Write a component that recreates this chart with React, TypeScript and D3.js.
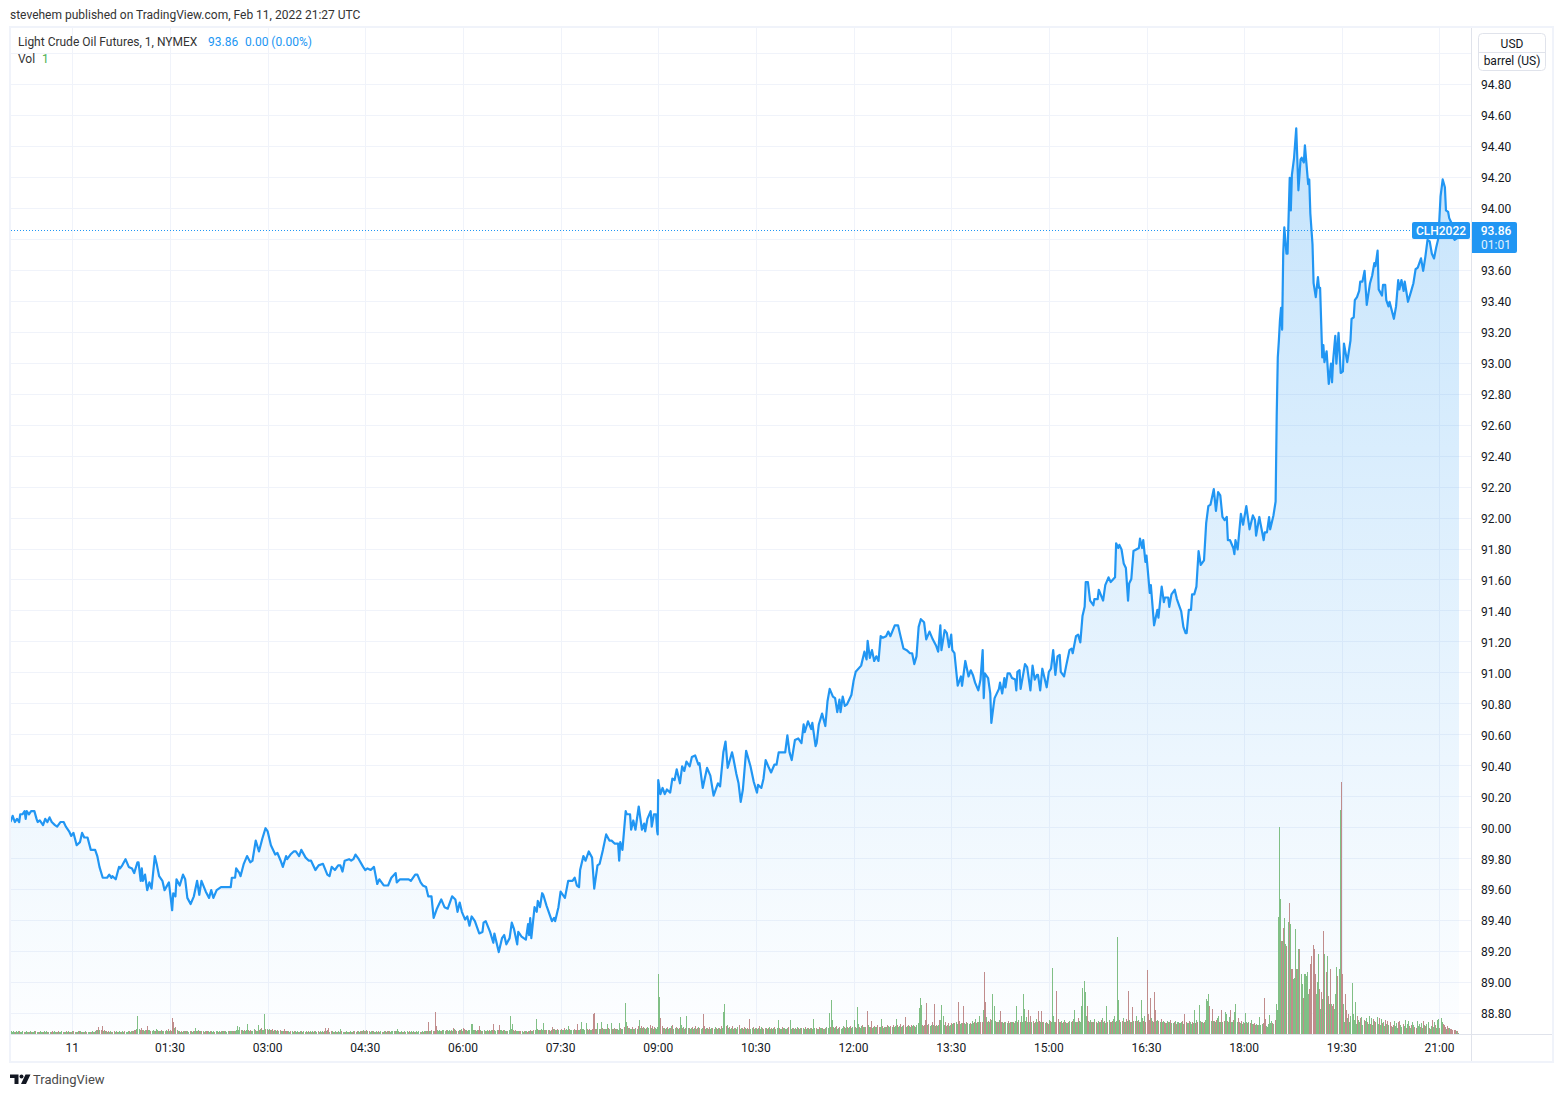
/**
 * Light crude oil futures, 1 minute area chart with volume, D3 + React
 */
import React, { useEffect, useRef } from "react";
import * as d3 from "d3";

// [minutes after 00:00 on Feb 11, price]
const pricePoints: [number, number][] = [
  [-57, 90.04], [-55, 90.08], [-53, 90.04], [-51, 90.06], [-49, 90.04], [-48, 90.09], [-46, 90.09], [-44, 90.11], [-43, 90.06], [-42, 90.11],
  [-40, 90.09], [-38, 90.11], [-35, 90.11], [-33, 90.06], [-32, 90.04], [-30, 90.05], [-27, 90.02], [-25, 90.06], [-23, 90.04], [-21, 90.07],
  [-19, 90.04], [-16, 90.02], [-14, 90.01], [-11, 90.04], [-8, 90.04], [-6, 90.01], [-3, 89.98], [-1, 89.95], [1, 89.97], [4, 89.89],
  [7, 89.91], [9, 89.97], [11, 89.94], [14, 89.94], [17, 89.86], [21, 89.86], [23, 89.82], [25, 89.75], [28, 89.68], [32, 89.68],
  [34, 89.7], [36, 89.68], [37, 89.69], [40, 89.67], [43, 89.75], [44, 89.74], [46, 89.76], [49, 89.8], [52, 89.75], [55, 89.74],
  [57, 89.71], [60, 89.78], [61, 89.78], [63, 89.66], [64, 89.74], [65, 89.66], [67, 89.7], [69, 89.6], [71, 89.65], [73, 89.61],
  [76, 89.82], [78, 89.76], [80, 89.69], [83, 89.66], [85, 89.6], [89, 89.65], [92, 89.47], [93, 89.58], [95, 89.56], [96, 89.67],
  [99, 89.63], [102, 89.7], [104, 89.67], [106, 89.55], [109, 89.51], [112, 89.56], [115, 89.66], [117, 89.57], [119, 89.66], [123, 89.59],
  [126, 89.55], [128, 89.6], [130, 89.55], [133, 89.6], [137, 89.62], [140, 89.62], [146, 89.62], [147, 89.68], [150, 89.68], [151, 89.74],
  [154, 89.71], [155, 89.69], [158, 89.77], [161, 89.82], [164, 89.78], [166, 89.79], [169, 89.92], [172, 89.85], [175, 89.93], [178, 90.0],
  [180, 89.98], [183, 89.89], [187, 89.83], [189, 89.84], [192, 89.79], [194, 89.75], [197, 89.82], [198, 89.8], [201, 89.83], [204, 89.85],
  [206, 89.85], [209, 89.82], [211, 89.86], [215, 89.81], [218, 89.79], [220, 89.79], [224, 89.73], [227, 89.76], [231, 89.77], [235, 89.7],
  [237, 89.69], [239, 89.75], [242, 89.73], [245, 89.76], [247, 89.76], [249, 89.72], [251, 89.79], [255, 89.8], [257, 89.79], [259, 89.8],
  [261, 89.83], [264, 89.8], [268, 89.75], [270, 89.73], [272, 89.74], [275, 89.73], [278, 89.75], [281, 89.64], [283, 89.67], [287, 89.63],
  [291, 89.63], [294, 89.68], [298, 89.71], [299, 89.65], [302, 89.67], [306, 89.67], [310, 89.67], [312, 89.66], [316, 89.7], [318, 89.7],
  [321, 89.65], [323, 89.63], [326, 89.62], [328, 89.56], [331, 89.56], [333, 89.42], [336, 89.48], [340, 89.54], [343, 89.49], [346, 89.48],
  [350, 89.56], [353, 89.54], [355, 89.46], [357, 89.52], [359, 89.46], [362, 89.41], [364, 89.43], [366, 89.37], [368, 89.43], [371, 89.4],
  [375, 89.32], [378, 89.33], [379, 89.39], [381, 89.4], [385, 89.33], [388, 89.26], [389, 89.32], [393, 89.2], [396, 89.29], [398, 89.31],
  [400, 89.25], [403, 89.29], [405, 89.39], [407, 89.35], [410, 89.25], [411, 89.33], [414, 89.3], [418, 89.28], [420, 89.38], [421, 89.31],
  [422, 89.42], [423, 89.29], [426, 89.49], [428, 89.46], [429, 89.53], [431, 89.49], [433, 89.58], [434, 89.57], [437, 89.5], [442, 89.4],
  [444, 89.42], [445, 89.4], [448, 89.49], [450, 89.59], [454, 89.55], [457, 89.66], [461, 89.66], [463, 89.68], [465, 89.63], [467, 89.62],
  [468, 89.73], [471, 89.82], [473, 89.79], [476, 89.85], [479, 89.81], [481, 89.61], [484, 89.76], [486, 89.77], [489, 89.86], [492, 89.96],
  [495, 89.92], [497, 89.92], [500, 89.9], [503, 89.9], [504, 89.79], [505, 89.91], [507, 89.86], [510, 90.11], [511, 90.09], [514, 90.09],
  [515, 89.99], [517, 90.05], [519, 89.99], [522, 90.14], [525, 89.99], [527, 90.03], [528, 89.98], [530, 90.06], [533, 90.11], [534, 90.01],
  [536, 90.09], [538, 90.09], [539, 89.98], [539.5, 89.96], [540, 90.31], [542, 90.22], [544, 90.26], [546, 90.22], [548, 90.25], [551, 90.23],
  [553, 90.32], [555, 90.31], [557, 90.38], [560, 90.29], [562, 90.4], [564, 90.37], [566, 90.43], [569, 90.4], [571, 90.46], [574, 90.47],
  [577, 90.41], [578, 90.42], [581, 90.26], [585, 90.39], [588, 90.34], [591, 90.21], [595, 90.29], [597, 90.27], [600, 90.49], [602, 90.56],
  [604, 90.39], [606, 90.44], [608, 90.49], [609, 90.46], [612, 90.35], [614, 90.29], [616, 90.17], [618, 90.25], [621, 90.5], [625, 90.4],
  [628, 90.3], [631, 90.23], [632, 90.28], [635, 90.26], [637, 90.32], [639, 90.44], [642, 90.39], [644, 90.36], [647, 90.41], [649, 90.41],
  [651, 90.49], [657, 90.49], [659, 90.6], [661, 90.49], [663, 90.44], [666, 90.57], [669, 90.58], [672, 90.55], [674, 90.67], [675, 90.62],
  [678, 90.69], [681, 90.64], [682, 90.68], [685, 90.53], [686, 90.55], [688, 90.67], [691, 90.74], [694, 90.66], [696, 90.82], [698, 90.9],
  [701, 90.85], [703, 90.84], [705, 90.75], [707, 90.83], [708, 90.75], [710, 90.85], [712, 90.79], [714, 90.8], [718, 90.86], [720, 90.95],
  [722, 91.01], [727, 91.05], [730, 91.14], [732, 91.09], [733, 91.21], [735, 91.1], [737, 91.15], [739, 91.08], [741, 91.11], [743, 91.08],
  [745, 91.24], [747, 91.23], [750, 91.24], [752, 91.27], [754, 91.24], [758, 91.31], [761, 91.31], [763, 91.25], [766, 91.16], [769, 91.15],
  [772, 91.13], [774, 91.13], [776, 91.06], [778, 91.11], [780, 91.3], [782, 91.35], [785, 91.33], [787, 91.22], [790, 91.27], [793, 91.22],
  [796, 91.18], [798, 91.14], [800, 91.31], [801, 91.15], [804, 91.28], [806, 91.26], [808, 91.17], [810, 91.25], [811, 91.15], [813, 91.13],
  [816, 90.92], [819, 90.98], [820, 90.92], [823, 91.08], [826, 90.98], [828, 91.02], [830, 90.99], [832, 90.94], [835, 90.89], [837, 90.96],
  [839, 91.15], [840, 90.84], [841, 91.0], [844, 90.97], [846, 90.87], [847, 90.68], [849, 90.79], [850, 90.84], [854, 90.9], [855, 90.94],
  [857, 90.87], [859, 90.97], [860, 90.91], [862, 91.0], [864, 91.0], [866, 90.97], [869, 90.96], [870, 90.89], [871, 91.01], [873, 91.02],
  [874, 90.9], [878, 91.06], [880, 91.04], [883, 90.89], [885, 91.05], [887, 90.96], [889, 90.99], [890, 90.99], [892, 90.89], [894, 91.03],
  [898, 90.91], [900, 91.01], [902, 91.03], [904, 91.15], [906, 90.99], [908, 91.11], [910, 91.12], [911, 91.01], [914, 90.98], [916, 91.05],
  [919, 91.15], [921, 91.16], [922, 91.13], [925, 91.24], [927, 91.25], [929, 91.2], [931, 91.37], [933, 91.43], [934, 91.59], [936, 91.59],
  [938, 91.47], [941, 91.44], [942, 91.48], [945, 91.48], [946, 91.54], [950, 91.47], [952, 91.57], [955, 91.62], [957, 91.59], [961, 91.62],
  [962, 91.84], [964, 91.81], [965, 91.83], [967, 91.8], [969, 91.71], [971, 91.68], [973, 91.47], [974, 91.58], [976, 91.61], [978, 91.79],
  [983, 91.81], [984, 91.87], [986, 91.81], [987, 91.86], [989, 91.72], [990, 91.76], [993, 91.52], [994, 91.57], [997, 91.31], [1000, 91.41],
  [1001, 91.36], [1004, 91.56], [1006, 91.46], [1007, 91.49], [1010, 91.49], [1011, 91.43], [1013, 91.51], [1016, 91.54], [1018, 91.48], [1021, 91.42],
  [1022, 91.4], [1024, 91.3], [1026, 91.26], [1027, 91.26], [1029, 91.41], [1031, 91.41], [1032, 91.51], [1034, 91.51], [1036, 91.56], [1038, 91.79],
  [1040, 91.7], [1043, 91.73], [1045, 91.97], [1047, 92.08], [1049, 92.09], [1052, 92.19], [1054, 92.05], [1056, 92.17], [1058, 92.15], [1060, 92.01],
  [1062, 91.99], [1064, 92.01], [1065, 91.86], [1067, 91.86], [1070, 91.81], [1071, 91.77], [1072, 91.86], [1074, 91.8], [1077, 92.03], [1079, 91.96],
  [1082, 92.08], [1085, 91.93], [1088, 92.02], [1090, 91.99], [1091, 91.89], [1094, 92.01], [1095, 91.97], [1098, 91.86], [1099, 91.91], [1101, 91.91],
  [1103, 92.01], [1104, 91.93], [1107, 92.02], [1109, 92.11], [1110, 92.66], [1111, 93.04], [1112, 93.15], [1113, 93.28], [1114, 93.36], [1115, 93.22],
  [1116, 93.71], [1117, 93.88], [1119, 93.71], [1120, 93.71], [1122, 94.2], [1123, 93.99], [1124, 94.22], [1126, 94.33], [1128, 94.52], [1130, 94.12],
  [1132, 94.32], [1133, 94.33], [1135, 94.3], [1136, 94.41], [1139, 94.16], [1140, 94.19], [1141, 93.97], [1143, 93.77], [1144, 93.52], [1146, 93.43],
  [1148, 93.56], [1149, 93.49], [1150, 93.49], [1152, 93.04], [1153, 93.12], [1154, 93.01], [1156, 93.08], [1158, 92.87], [1160, 93.0], [1161, 92.88],
  [1162, 93.02], [1164, 93.18], [1165, 93.0], [1167, 93.2], [1169, 92.94], [1171, 92.95], [1172, 93.13], [1175, 93.01], [1178, 93.15], [1179, 93.29],
  [1181, 93.3], [1182, 93.41], [1184, 93.43], [1186, 93.47], [1187, 93.53], [1189, 93.53], [1191, 93.6], [1193, 93.38], [1196, 93.52], [1198, 93.57],
  [1200, 93.65], [1201, 93.63], [1203, 93.73], [1204, 93.48], [1207, 93.44], [1208, 93.51], [1210, 93.51], [1211, 93.41], [1213, 93.37], [1214, 93.4],
  [1218, 93.29], [1220, 93.37], [1222, 93.54], [1223, 93.48], [1225, 93.54], [1227, 93.47], [1228, 93.53], [1231, 93.4], [1234, 93.47], [1236, 93.52],
  [1238, 93.61], [1240, 93.62], [1243, 93.68], [1245, 93.6], [1247, 93.69], [1249, 93.8], [1251, 93.79], [1253, 93.71], [1255, 93.68], [1257, 93.75],
  [1259, 93.81], [1261, 94.08], [1263, 94.19], [1265, 94.14], [1266, 93.99], [1268, 93.98], [1269, 93.94], [1271, 93.91], [1272, 93.82], [1274, 93.8],
  [1276, 93.81], [1278, 93.82],
];

// one value per minute, sign gives the bar colour (negative = down)
const volBefore = [
  3, 2, 3, 2, -2, 3, 2, 3, -3, 2, 2, 3, -2, 2, 3, 2, -2, 2, 3, -2, 2, 2, 3, -3, 2, 2, -2, 3, 2, 2,
  -2, 3, 2, 3, -2, 2, 2, -2, -3, 2, 3, 2, -2, 2, -3, 2, 2, 3, -2, 2, 2, -3, 2, 3, -2, 2, -2,
];
const vol0000 = [
  3, -3, 2, -2, 2, 3, -3, 3, -2, 2, 2, -2, 3, -2, 2, 2, -2, 2, 3, -2, 2, 3, -4, 4, -7, 4, -4, -8, 3, -4,
  3, -3, 2, -3, 2, 3, -2, 2, -3, 2, 3, -2, 2, 3, 2, -2, 3, 2, -3, 2, 2, 3, -3, 2, 3, -3, 3, -4, -4, 5,
  18, 5, -4, -6, 4, -4, 3, 4, -4, -8, 4, 4, -3, 3, 4, 3, -3, 5, 4, -3, 3, 3, -4, 3, 3, -3, 4, 3, -5, 3,
];
const vol0130 = [
  -4, 3, -16, -12, 6, -7, 4, -3, 3, 2, -3, 2, 3, -3, 3, -3, 3, 2, -3, 3, 2, -3, 3, 6, -3, 3, 4, -3, 3, -3,
  3, -2, 3, -3, -3, 3, 2, -3, 3, 2, 3, -2, 3, 3, -2, 3, 2, -3, 3, 3, -3, 3, 2, 3, -3, 3, 3, -3, 3, -3,
  3, 4, 8, 4, 7, -4, 4, 3, -4, 3, 4, 10, -4, 3, -4, 3, 3, 5, -4, 3, 3, 9, -4, 5, -6, 4, 4, 20, -5, 5,
];
const vol0300 = [
  -4, 5, -4, 4, -5, 3, -4, 4, 3, -4, 3, -4, 3, 3, -3, -5, 3, -3, -3, 3, 2, -3, 3, 2, -3, 3, 2, 3, -2, 2,
  3, -3, 2, 3, -2, 3, 2, -3, 2, 3, -2, 3, 2, -3, 3, 2, -3, 2, 3, -2, 3, 2, -3, -6, 3, -4, -6, 2, -3, 3,
  2, -2, 3, 2, -2, 3, 2, 5, -3, 2, 2, -2, 3, 2, 2, -2, 3, 2, -2, 3, -3, 2, -3, 3, 2, -3, 3, -3, 4, -3,
];
const vol0430 = [
  3, -4, 3, -3, 2, 3, -3, 3, 2, -2, 3, 2, -3, 2, 3, -2, 2, 3, -3, 2, -3, 3, -3, 2, 3, 3, 3, -3, 3, 5,
  3, -2, 2, 3, -2, 2, 3, -2, 3, 2, -3, 2, 3, -2, 3, 2, -2, 3, 2, 3, -2, 2, 3, -2, 3, 3, -3, 3, -12, 3,
  3, -4, 3, -3, -22, -8, 4, 3, 4, 3, -3, 4, 4, 3, -4, 4, 3, 4, -3, 4, 3, -6, 5, -4, 3, -3, 4, -4, 5, 3,
];
const vol0600 = [
  -6, -5, 4, -4, 3, 4, 4, 10, 10, 4, 4, -4, 3, 4, -4, -8, 4, -3, 3, 4, -3, 3, 4, 3, -4, 3, 4, -4, -10, 4,
  3, 4, -4, -9, 4, 4, 3, -4, 4, 3, -3, 3, 4, 18, 5, 10, -4, 3, -4, 3, 3, 3, -3, -3, 3, 2, -3, 3, 3, -2,
  -3, 3, -4, 3, 3, -4, 4, 15, 5, -4, 4, -4, 5, 4, 11, -4, 4, -4, 4, -4, 3, -4, -7, 5, -5, 4, 4, -5, 4, 4,
];
const vol0730 = [
  -5, 4, 4, -6, 4, 5, 4, 8, -5, 4, 4, 4, -5, 4, -4, -10, 4, 4, -5, 12, 5, 5, 4, 11, -5, 4, -5, 4, 4, -5,
  -20, -21, 5, -5, 11, 5, -5, 12, -6, 5, 5, -5, 5, 10, -6, 5, 11, -5, 5, -6, 5, -5, 5, 4, 11, -6, 5, 5, -7, 31,
  12, -8, 6, -6, 5, 5, -7, 5, 5, -6, 5, -8, 14, 6, -8, 6, -7, 6, 5, -6, 7, 6, -9, 6, -8, 5, -7, 6, 5, 7,
];
const vol0900 = [
  60, 37, -16, -8, 6, -6, 5, 6, -7, 5, 6, -6, 8, -9, 5, 6, -7, 6, 5, -6, 17, 9, -6, 7, 5, -6, 18, 6, -6, 5,
  6, -7, 5, 6, -8, 5, -6, 7, -6, 5, 6, -20, -8, 5, 6, -6, 5, -7, 5, 6, -6, 5, 7, -6, 5, 6, -6, 5, -8, 6,
  22, 30, -8, 9, 6, -7, 5, 6, -8, 5, 6, -6, 5, 7, -9, 5, 6, -6, 5, -7, 6, 5, -6, 5, -15, 5, 6, -7, 5, 6,
];
const vol1030 = [
  -6, 5, 6, -8, 5, 7, -6, 5, -6, 6, 5, -6, 7, 5, -6, 5, 6, -7, 5, 6, 14, -6, 5, 5, -7, 6, 6, -5, 5, 6,
  -7, 14, 5, -6, 6, 5, -6, 5, 7, -6, 5, 6, -6, 6, 5, -7, 5, 6, -6, 5, 6, -6, 5, 15, 6, -6, 5, 5, -7, 6,
  6, -6, 5, 5, -6, 7, 6, 21, -7, 34, 14, -7, 6, 7, -8, 5, 6, -7, 5, 6, 8, -7, 6, 14, -7, 6, 7, -8, 6, 7,
];
const vol1200 = [
  14, -7, 6, 27, 10, -7, 6, 8, -9, 7, 7, -7, -23, 9, 7, -7, -13, 6, 7, -8, 7, 7, -9, -7, 7, 15, -8, 6, 7, -7,
  7, -9, 8, 7, -8, 7, -9, 7, 8, 15, -9, 7, 8, -10, 7, 8, -9, -17, 7, 8, -9, 8, 7, -9, 8, 9, -8, 7, 9, 11,
  26, 36, 29, -9, 8, -9, -14, -31, 9, -10, 8, 9, -12, 9, -30, 8, -9, 8, 9, -14, 14, 29, 18, 9, -12, -8, 9, -11, 8, 9,
];
const vol1330 = [
  -11, 10, 11, -11, 12, 10, -32, -13, 10, 11, -11, -28, 11, 10, -12, 11, 10, -11, 10, 13, 11, -12, 15, 11, -12, 12, 18, -12, -12, 24,
  -62, -32, 17, 12, -13, 12, -15, 14, 40, 28, 13, -12, 12, -12, 14, -23, -12, 12, 11, -12, 12, 11, -13, 11, -12, 12, 12, -12, 11, 13,
  28, -12, 14, -12, 18, 12, 40, 25, -13, 17, 12, -24, 12, -18, 12, -13, 11, -12, 15, 12, -23, -13, 12, -23, 12, -12, 11, -12, 11, -10,
];
const vol1500 = [
  14, -13, 12, 66, 18, 12, -12, -43, -15, 12, -12, 13, 11, -12, 14, -12, 11, 11, -12, 13, 12, -13, 15, 24, -12, 12, 12, -16, 13, 12,
  28, 46, 53, 42, 18, -28, -13, 12, 14, -12, 12, -12, 15, -12, 11, 13, -12, 12, -14, 16, 12, -13, 11, 28, -12, 14, -12, 12, -13, 15,
  18, -12, 13, 97, 34, -14, 12, -13, 16, -12, 12, -15, 13, -43, 14, -12, 12, -27, 13, -13, 18, -13, 14, -12, 12, 34, 16, -13, 18, -12,
];
const vol1630 = [
  -64, -20, -14, -36, 16, -13, 12, -42, -24, 13, 14, -13, 12, -15, 12, 13, -12, -11, 11, 13, -12, 12, -14, 11, 11, -12, 13, -10, 12, 12,
  -11, 11, 12, -13, 10, -20, -12, 11, 11, -13, 12, 10, -12, 11, 24, -11, 14, -12, 29, 13, -12, 12, 11, -12, 14, 35, 33, 40, -28, 13,
  -25, 13, -13, 12, -14, 16, 18, -12, 12, -24, 12, -13, 22, 20, -13, 12, 17, -24, 12, 12, -14, 22, 30, 12, -16, -12, 11, -13, 10, 12,
];
const vol1800 = [
  -11, 21, 12, -11, 12, -11, 14, 10, -10, -11, 9, 10, -9, 9, 17, 9, 10, -11, -36, -15, 8, 7, 10, 19, 11, 13, -11, 10, -14, 30,
  24, 117, 207, 135, -93, 93, -106, 116, 90, -88, 112, -131, 110, -65, -65, 55, 56, 105, -65, 65, 85, -85, 60, 50, -36, 60, 60, 58, 62, 40,
  -45, -70, -78, -89, -85, -60, 40, 52, 80, -45, 25, -42, 35, -103, 80, -62, 78, -38, 30, -65, 30, -28, -30, 25, 40, 67, -58, 65, 224, -252,
];
const vol1930 = [
  -60, 30, 12, -40, -24, 16, -20, 12, 18, 51, 20, 14, 32, 10, -18, 14, 12, -16, 17, 9, -14, 13, 16, -12, 10, 18, -10, 16, 9, -15,
  13, -12, 17, 10, -16, 9, 15, -11, 12, 8, -14, 10, -13, 9, -12, -8, 7, -9, 13, 8, 11, 6, -12, -13, 9, 7, -10, 8, 14, -6,
  10, 13, -8, 6, -9, 12, 9, -7, -6, 13, 8, 10, -7, 11, 6, -13, 9, -8, 10, 12, -6, 5, 8, -14, 7, 12, -9, 6, 14, 15,
];
const vol2100 = [-6, 16, 12, -10, -9, -7, 5, -8, -6, 6, -5, -5, -4, -4, -4, 3, -3, 1];

const volumeRows = [volBefore, vol0000, vol0130, vol0300, vol0430, vol0600, vol0730, vol0900, vol1030, vol1200, vol1330, vol1500, vol1630, vol1800, vol1930, vol2100];
const volumeRowStarts = [-57, 0, 90, 180, 270, 360, 450, 540, 630, 720, 810, 900, 990, 1080, 1170, 1260];

const priceTicks = [88.8, 89, 89.2, 89.4, 89.6, 89.8, 90, 90.2, 90.4, 90.6, 90.8, 91, 91.2, 91.4, 91.6, 91.8, 92, 92.2, 92.4, 92.6, 92.8, 93, 93.2, 93.4, 93.6, 93.8, 94, 94.2, 94.4, 94.6, 94.8];
const timeTicks = [0, 90, 180, 270, 360, 450, 540, 630, 720, 810, 900, 990, 1080, 1170, 1260];
const timeLabels = ["11", "01:30", "03:00", "04:30", "06:00", "07:30", "09:00", "10:30", "12:00", "13:30", "15:00", "16:30", "18:00", "19:30", "21:00"];
const lastPrice = 93.86;
// the last price tag sits on this tick, its label is not shown
const hiddenPriceTick = 93.8;

const BLUE = "#2196f3";
const GRID = "#f0f3fa";
const BORDER = "#e0e3eb";
const FONT = "Roboto, 'Noto Sans', sans-serif";

export default function App() {
  const svgRef = useRef<SVGSVGElement>(null);

  useEffect(() => {
    if (!svgRef.current) return;
    const svg = d3.select(svgRef.current);
    svg.selectAll("*").remove();

    const xScale = d3.scaleLinear().domain([-57, 1277]).range([10.5, 1457.9]);
    const yScale = d3.scaleLinear().domain([88.8, 94.8]).range([1014, 85]);
    const volScale = d3.scaleLinear().domain([0, 252]).range([1034, 782]);

    // Gradient
    const gradient = svg
      .append("defs")
      .append("linearGradient")
      .attr("id", "areaFill")
      .attr("gradientUnits", "userSpaceOnUse")
      .attr("x1", 0)
      .attr("x2", 0)
      .attr("y1", 127)
      .attr("y2", 1034);
    gradient.append("stop").attr("offset", "0%").attr("stop-color", BLUE).attr("stop-opacity", 0.26);
    gradient.append("stop").attr("offset", "100%").attr("stop-color", BLUE).attr("stop-opacity", 0.01);

    // Grid lines
    const grid = svg.append("g").attr("stroke", GRID).attr("stroke-width", 1);
    [...priceTicks, 95].forEach((p) => {
      const y = Math.round(yScale(p)) - 0.5;
      grid.append("line").attr("x1", 10).attr("x2", 1471).attr("y1", y).attr("y2", y);
    });
    timeTicks.forEach((t) => {
      const x = Math.round(xScale(t)) + 0.5;
      grid.append("line").attr("x1", x).attr("x2", x).attr("y1", 28).attr("y2", 1034);
    });

    // Area
    const area = d3
      .area<[number, number]>()
      .x((d) => xScale(d[0]))
      .y0(1034)
      .y1((d) => yScale(d[1]));
    svg.append("path").datum(pricePoints).attr("d", area).attr("fill", "url(#areaFill)");

    // Volume bars
    const bars = volumeRows.flatMap((row, r) =>
      row.map((v, i) => ({ minute: volumeRowStarts[r] + i, volume: Math.abs(v), up: v >= 0 }))
    );
    svg
      .append("g")
      .selectAll("rect")
      .data(bars)
      .enter()
      .append("rect")
      .attr("x", (d) => Math.round(xScale(d.minute)))
      .attr("y", (d) => volScale(d.volume))
      .attr("width", 1)
      .attr("height", (d) => volScale(0) - volScale(d.volume))
      .attr("fill", (d) => (d.up ? "#80bf85" : "#c08c8c"));

    const line = d3
      .line<[number, number]>()
      .x((d) => xScale(d[0]))
      .y((d) => yScale(d[1]));

    // Last price line
    const lastY = Math.round(yScale(lastPrice)) - 0.5;
    svg
      .append("line")
      .attr("x1", 11)
      .attr("x2", 1412)
      .attr("y1", lastY)
      .attr("y2", lastY)
      .attr("stroke", BLUE)
      .attr("stroke-width", 1)
      .attr("stroke-dasharray", "1,2");

    svg
      .append("path")
      .datum(pricePoints)
      .attr("d", line)
      .attr("fill", "none")
      .attr("stroke", BLUE)
      .attr("stroke-width", 2.2)
      .attr("stroke-linejoin", "round");

    // Frame
    svg
      .append("rect")
      .attr("x", 10)
      .attr("y", 27)
      .attr("width", 1543)
      .attr("height", 1035)
      .attr("fill", "none")
      .attr("stroke", GRID)
      .attr("stroke-width", 2);
    svg.append("line").attr("x1", 11).attr("x2", 1552).attr("y1", 1034.5).attr("y2", 1034.5).attr("stroke", BORDER);
    svg.append("line").attr("x1", 1471.5).attr("x2", 1471.5).attr("y1", 28).attr("y2", 1061).attr("stroke", BORDER);

    // Axes
    const yAxis = d3
      .axisRight(yScale)
      .tickValues(priceTicks.filter((p) => p !== hiddenPriceTick))
      .tickFormat((d) => d3.format(".2f")(d as number))
      .tickSize(0)
      .tickPadding(9);
    const yAxisG = svg.append("g").attr("transform", "translate(1472,0)").call(yAxis);
    yAxisG.select(".domain").remove();
    yAxisG.selectAll("text").attr("font-family", FONT).attr("font-size", 12).attr("fill", "#131722");

    const xAxis = d3
      .axisBottom(xScale)
      .tickValues(timeTicks)
      .tickFormat((_, i) => timeLabels[i])
      .tickSize(0)
      .tickPadding(9);
    const xAxisG = svg.append("g").attr("transform", "translate(-0.5,1034)").call(xAxis);
    xAxisG.select(".domain").remove();
    xAxisG.selectAll("text").attr("font-family", FONT).attr("font-size", 12).attr("fill", "#131722");

    const label = (x: number, y: number, text: string, fill: string, size = 12, anchor = "start", weight = "normal") =>
      svg
        .append("text")
        .attr("x", x)
        .attr("y", y)
        .attr("font-family", FONT)
        .attr("font-size", size)
        .attr("font-weight", weight)
        .attr("text-anchor", anchor)
        .attr("fill", fill)
        .text(text);

    // Header and legend
    label(10, 19, "stevehem published on TradingView.com, Feb 11, 2022 21:27 UTC", "#333333");
    label(18, 46, "Light Crude Oil Futures, 1, NYMEX", "#333333");
    label(208, 46, "93.86", BLUE);
    label(245, 46, "0.00 (0.00%)", BLUE);
    label(18, 63, "Vol", "#333333");
    label(42, 63, "1", "#4caf50");

    // Unit box
    svg
      .append("rect")
      .attr("x", 1478.5)
      .attr("y", 33.5)
      .attr("width", 67)
      .attr("height", 37)
      .attr("rx", 4)
      .attr("fill", "#fff")
      .attr("stroke", BORDER);
    svg.append("line").attr("x1", 1479).attr("x2", 1545).attr("y1", 52.5).attr("y2", 52.5).attr("stroke", BORDER);
    label(1512, 48, "USD", "#131722", 12, "middle");
    label(1512, 65, "barrel (US)", "#131722", 12, "middle");

    // Last price tags
    svg.append("rect").attr("x", 1412).attr("y", 222).attr("width", 58).attr("height", 17).attr("rx", 2).attr("fill", BLUE);
    label(1441, 235, "CLH2022", "#fff", 12, "middle", "500");
    svg.append("path").attr("d", "M1472 222h43a2 2 0 0 1 2 2v27a2 2 0 0 1 -2 2h-43z").attr("fill", BLUE);
    label(1496, 235, "93.86", "#fff", 12, "middle", "500");
    label(1496, 249, "01:01", "#e3f2fd", 12, "middle");

    // Logo
    svg
      .append("path")
      .attr("d", "M10 1074.5h8.5v9.5h-4v-6h-4.5z M25.5 1074.5h5l-4.5 9.5h-5z")
      .attr("fill", "#131722");
    svg.append("circle").attr("cx", 21.5).attr("cy", 1076.5).attr("r", 2).attr("fill", "#131722");
    label(33, 1084, "TradingView", "#4a4a4a", 13);
  }, []);

  return (
    <svg
      ref={svgRef}
      width={1563}
      height={1097}
      style={{ position: "absolute", left: 0, top: 0, background: "#fff" }}
    />
  );
}
